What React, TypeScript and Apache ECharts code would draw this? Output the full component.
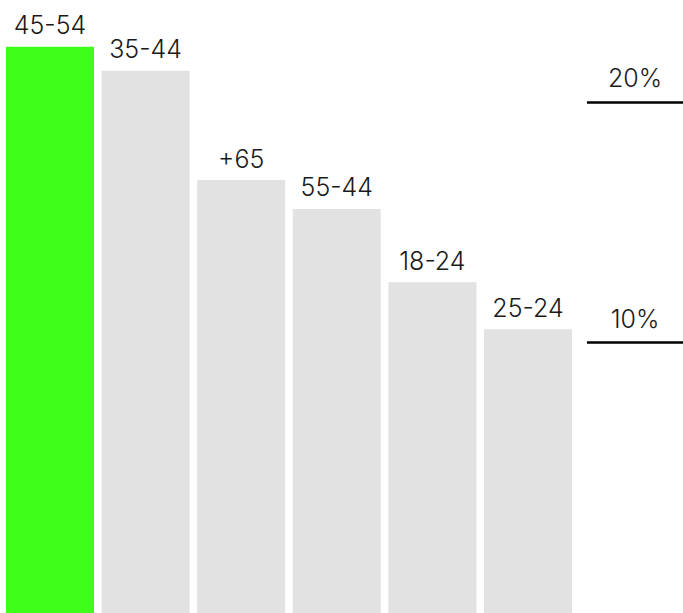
import React, { useEffect, useRef } from "react";
import * as echarts from "echarts";

const categories = ["45-54", "35-44", "+65", "55-44", "18-24", "25-24"];
const values = [22.3, 21.3, 16.75, 15.55, 12.5, 10.55];
const barColors = ["#3dff1a", "#e2e2e2", "#e2e2e2", "#e2e2e2", "#e2e2e2", "#e2e2e2"];
const refLines = [10, 20];

const Y_MIN = -1.25;
const Y_MAX = 24.24;
const FONT = "Inter, 'Liberation Sans', Arial, sans-serif";

export default function App() {
  const ref = useRef<HTMLDivElement>(null);
  useEffect(() => {
    document.body.style.margin = "0";
    const chart = echarts.init(ref.current!, undefined, { renderer: "svg" });
    chart.setOption({
      animation: false,
      backgroundColor: "#ffffff",
      grid: [
        { left: 2.2, right: 107.2, top: 0, bottom: 0 },
        { left: 587, right: 0, top: 0, bottom: 0 },
      ],
      xAxis: [
        {
          type: "category",
          gridIndex: 0,
          data: categories,
          show: false,
        },
        { type: "value", gridIndex: 1, min: 0, max: 1, show: false },
      ],
      yAxis: [
        {
          type: "value",
          gridIndex: 0,
          min: Y_MIN,
          max: Y_MAX,
          startValue: Y_MIN,
          show: false,
        },
        { type: "value", gridIndex: 1, min: Y_MIN, max: Y_MAX, show: false },
      ],
      series: [
        {
          type: "bar",
          xAxisIndex: 0,
          yAxisIndex: 0,
          barWidth: 88,
          data: values.map((v, i) => ({
            value: v,
            itemStyle: { color: barColors[i] },
          })),
          label: {
            show: true,
            position: "top",
            distance: 9,
            formatter: (p: any) => categories[p.dataIndex],
            color: "#1a1a1a",
            fontFamily: FONT,
            fontWeight: 300,
            fontSize: 25,
          },
          emphasis: { disabled: true },
        },
        {
          type: "line",
          xAxisIndex: 1,
          yAxisIndex: 1,
          data: [],
          markLine: {
            silent: true,
            symbol: "none",
            lineStyle: { color: "#000000", width: 2.6, type: "solid" },
            label: {
              show: true,
              position: "insideMiddleTop",
              distance: 11,
              formatter: (p: any) => p.value + "%",
              color: "#1a1a1a",
              fontFamily: FONT,
              fontWeight: 300,
              fontSize: 25,
            },
            data: refLines.map((v) => ({ yAxis: v })),
          },
        },
      ],
    });
    return () => chart.dispose();
  }, []);
  return <div ref={ref} style={{ width: 683, height: 613 }} />;
}
